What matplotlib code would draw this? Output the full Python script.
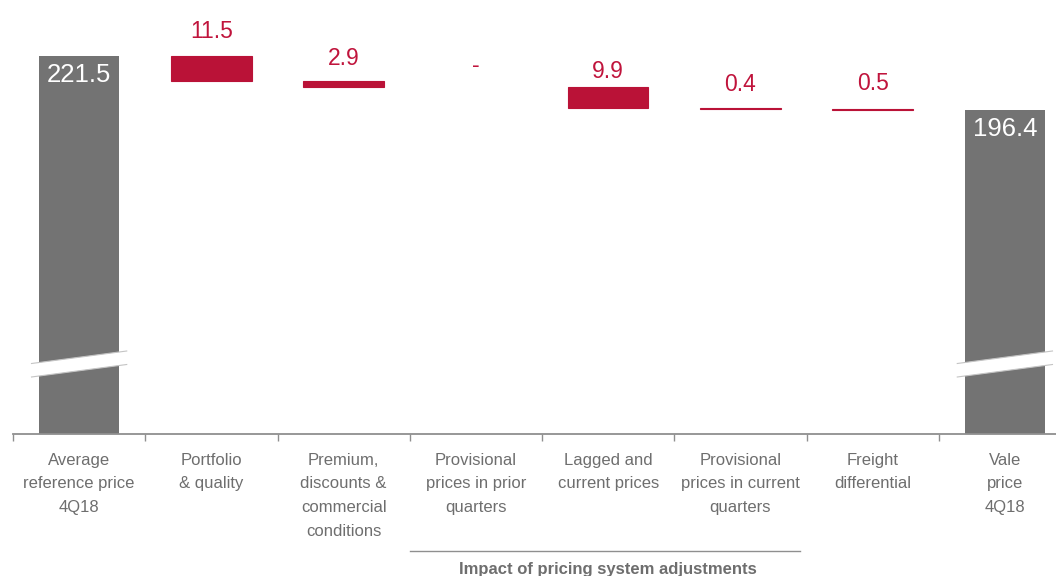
import matplotlib.pyplot as plt
import matplotlib.transforms as mtransforms

# Data
categories = ["Average\nreference price\n4Q18", "Portfolio\n& quality",
              "Premium,\ndiscounts &\ncommercial\nconditions",
              "Provisional\nprices in prior\nquarters", "Lagged and\ncurrent prices",
              "Provisional\nprices in current\nquarters", "Freight\ndifferential",
              "Vale\nprice\n4Q18"]
start_value = 221.5
end_value = 196.4
deltas = [11.5, 2.9, 0.0, 9.9, 0.4, 0.5]
delta_labels = ["11.5", "2.9", "-", "9.9", "0.4", "0.5"]
group_label = "Impact of pricing system adjustments"

# label offsets above each floating bar (points)
label_offsets = [9, 8, 7, 3, 9, 10]

GRAY = "#737373"
RED = "#ba1237"
TEXT_RED = "#c0143c"
LABEL_GRAY = "#6e6e6e"
AXIS_GRAY = "#8f8f8f"


def main():
    plt.rcParams["font.family"] = ["Liberation Sans", "DejaVu Sans"]
    fig = plt.figure(figsize=(10.56, 5.76), dpi=100)
    # axes spans from the baseline up to the top edge, and a bit past the right edge
    ax = fig.add_axes([13 / 1056, 1 - 434 / 576, 1058 / 1056, 434 / 576])
    ymin, ymax = 46.0, 247.5
    px = 434 / (ymax - ymin)
    ax.set_xlim(-0.5, 7.5)
    ax.set_ylim(ymin, ymax)
    width = 0.61

    # totals
    for i, v in [(0, start_value), (7, end_value)]:
        ax.bar(i, v - ymin, bottom=ymin, width=width, color=GRAY, zorder=2)
        ax.annotate(f"{v:.1f}", (i, v), xytext=(0, -5), textcoords="offset points",
                    ha="center", va="top", color="white", fontsize=18.5)
        # axis break marker
        yb = ymin + (434 - 377) / px
        dx = 0.36
        sl = 12.5 / px
        th = 13.5 / px
        xs = [i - dx, i + dx, i + dx, i - dx]
        ys = [yb, yb + sl, yb + sl + th, yb + th]
        ax.fill(xs, ys, color="white", zorder=3, lw=0)
        ax.plot([i - dx, i + dx], [yb, yb + sl], color="#c4c4c4", lw=0.8, zorder=4)
        ax.plot([i - dx, i + dx], [yb + th, yb + sl + th], color="#c4c4c4", lw=0.8, zorder=4)

    # floating decreases
    level = start_value
    for k, (d, lab, off) in enumerate(zip(deltas, delta_labels, label_offsets)):
        i = k + 1
        if d > 0:
            ax.bar(i, d, bottom=level - d, width=width, color=RED,
                   edgecolor=RED, linewidth=0.8, zorder=2)
        ax.annotate(lab, (i, level), xytext=(0, off), textcoords="offset points",
                    ha="center", va="bottom", color=TEXT_RED, fontsize=16.5)
        level -= d

    # axis styling
    for s in ["left", "right", "top"]:
        ax.spines[s].set_visible(False)
    ax.spines["bottom"].set_color(AXIS_GRAY)
    ax.spines["bottom"].set_linewidth(1.3)
    ax.set_yticks([])
    ax.set_xticks(range(len(categories)))
    ax.set_xticklabels(categories, color=LABEL_GRAY, fontsize=12, linespacing=1.72)
    ax.tick_params(axis="x", which="major", length=0, pad=13.5)
    ax.set_xticks([i - 0.5 for i in range(len(categories) + 1)], minor=True)
    ax.tick_params(axis="x", which="minor", length=5, color=AXIS_GRAY, width=1)

    # group bracket
    trans = mtransforms.blended_transform_factory(ax.transData, ax.transAxes)
    ax.plot([2.5, 5.45], [-0.27, -0.27], transform=trans, color=AXIS_GRAY,
            lw=1, clip_on=False)
    ax.text(4.0, -0.312, group_label, transform=trans, ha="center", va="center",
            fontsize=12, fontweight="bold", color=LABEL_GRAY, clip_on=False)

    fig.savefig("out.png", dpi=100)


if __name__ == "__main__":
    main()
